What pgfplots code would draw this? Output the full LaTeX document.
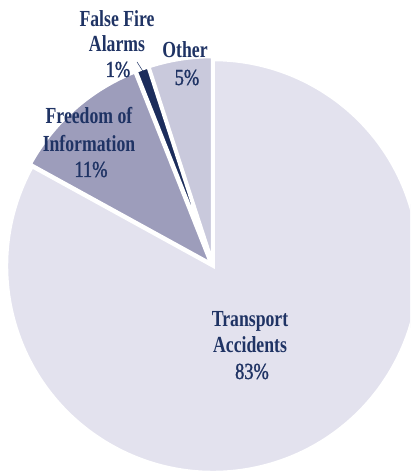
\documentclass[border=0pt]{standalone}
\usepackage{fontspec}
\setmainfont{Liberation Serif}[FakeStretch=0.77]
\newfontfamily\pctfont{Liberation Serif}[FakeStretch=0.8, FakeBold=1.3]
\usepackage{pgfplots}
\usepackage{pgfplotstable}
\pgfplotsset{compat=1.18}
\definecolor{pieC0}{HTML}{C9C9DC}
\definecolor{pieC1}{HTML}{1C2D5C}
\definecolor{pieC2}{HTML}{9D9DBB}
\definecolor{pieC3}{HTML}{E3E2EE}
\definecolor{cText}{HTML}{1F3364}
\pgfplotstableread{
name value explode
Other 5 3
FalseFireAlarms 1 3
FreedomOfInformation 11 3
TransportAccidents 83 0
}\piedata
\begin{document}
\begin{tikzpicture}
\path[use as bounding box] (0,0) rectangle (410pt,471pt);
\def\acc{90}
\pgfplotsforeachungrouped \i in {0,...,3}{%
  \pgfplotstablegetelem{\i}{value}\of\piedata
  \pgfmathsetmacro\accend{\acc+3.6*\pgfplotsretval}%
  \expandafter\xdef\csname pieS\i\endcsname{\acc}%
  \expandafter\xdef\csname pieE\i\endcsname{\accend}%
  \pgfplotstablegetelem{\i}{explode}\of\piedata
  \expandafter\xdef\csname pieX\i\endcsname{\pgfplotsretval}%
  \global\let\acc\accend
}
\begin{axis}[
  anchor=south west, at={(0,0)},
  x=1pt, y=1pt,
  xmin=0, xmax=410, ymin=0, ymax=471,
  hide axis, clip=true,
]
\pgfplotsinvokeforeach{0,...,3}{
  \fill[fill=pieC#1, draw=white, line width=3.5pt,
        shift={({(\csname pieS#1\endcsname+\csname pieE#1\endcsname)/2}:\csname pieX#1\endcsname pt)}]
    (axis cs:213,205) -- ++({\csname pieS#1\endcsname}:206.5pt)
    arc[start angle=\csname pieS#1\endcsname, end angle=\csname pieE#1\endcsname, radius=206.5pt] -- cycle;
}
\draw[cText, line width=0.5pt] (axis cs:137,409) -- (axis cs:146,395);
\tikzset{lbl/.style={anchor=base, inner sep=0pt, text=cText, font=\bfseries\fontsize{23}{26}\selectfont},
         pct/.style={anchor=base, inner sep=0pt, text=cText, font=\pctfont\fontsize{23}{26}\selectfont}}
\node[lbl] at (axis cs:250,144) {Transport};
\node[lbl] at (axis cs:250,118) {Accidents};
\node[pct] at (axis cs:252,92) {83\%};
\node[lbl] at (axis cs:89,347) {Freedom of};
\node[lbl] at (axis cs:89,319) {Information};
\node[pct] at (axis cs:91,294) {11\%};
\node[lbl] at (axis cs:117,444) {False Fire};
\node[lbl] at (axis cs:117,419) {Alarms};
\node[pct] at (axis cs:118,394) {1\%};
\node[lbl] at (axis cs:185,413) {Other};
\node[pct] at (axis cs:187,386) {5\%};
\end{axis}
\end{tikzpicture}
\end{document}
